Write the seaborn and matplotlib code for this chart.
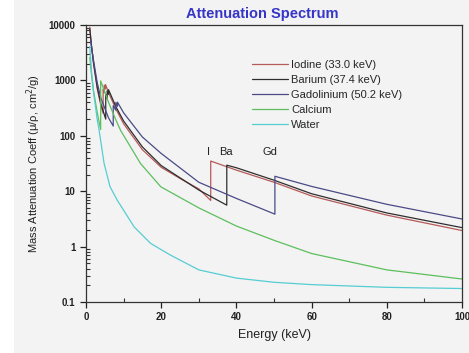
import numpy as np
import pandas as pd
import matplotlib
matplotlib.use("Agg")
import matplotlib.pyplot as plt
import matplotlib.ticker as mticker
from matplotlib.patches import Rectangle
import seaborn as sns

# ── Data ───────────────────────────────────────────────────
iodine_e = [1, 1.5, 2, 3, 4, 4.557, 4.557, 4.852, 4.852, 5.188, 5.188, 6, 8, 10,
            15, 20, 25, 30, 33.17, 33.17, 40, 50, 60, 80, 100]
iodine_v = [9100, 3940, 2000, 700, 340, 255, 690, 600, 820, 700, 840, 600, 300, 165,
            56, 27, 17, 11, 6.8, 35, 24, 14.5, 8.2, 3.7, 1.95]

barium_e = [1, 1.5, 2, 3, 4, 5.247, 5.247, 5.624, 5.624, 5.989, 5.989, 8, 10,
            15, 20, 30, 37.44, 37.44, 40, 50, 60, 80, 100]
barium_v = [8500, 4000, 2100, 750, 370, 200, 560, 470, 650, 560, 680, 330, 185,
            63, 29, 10.5, 5.6, 29.5, 26.5, 15.8, 9.0, 4.05, 2.2]

gadolinium_e = [1.2, 2, 3, 4, 6, 7.243, 7.243, 7.93, 7.93, 8.376, 8.376, 10,
                15, 20, 30, 40, 50.24, 50.24, 60, 80, 100]
gadolinium_v = [5300, 2300, 900, 470, 210, 150, 350, 290, 400, 340, 405, 260,
                95, 48, 14.5, 7.4, 3.85, 18.6, 12.2, 5.8, 3.15]

calcium_e = [1, 1.5, 2, 3, 3.9, 3.9, 5, 6, 8, 9.2, 14.5, 19.9, 30, 40, 50, 60, 80, 100]
calcium_v = [2600, 1200, 650, 260, 130, 980, 620, 400, 190, 125, 31.6, 12, 5.0,
             2.35, 1.3, 0.75, 0.38, 0.26]

water_e = [1, 1.5, 2, 3, 3.5, 4.8, 6.4, 8.3, 12.8, 17.2, 22.5, 30, 40, 50, 60, 80, 100]
water_v = [4078, 1376, 617, 193, 125, 32, 12, 6.9, 2.27, 1.14, 0.70, 0.38,
           0.27, 0.227, 0.206, 0.184, 0.175]

labels = ["Iodine (33.0 keV)", "Barium (37.4 keV)", "Gadolinium (50.2 keV)",
          "Calcium", "Water"]
colors = ["#b55a58", "#2e2e2e", "#4a4a86", "#5cbf5c", "#55cdd3"]

edge_names = ["I", "Ba", "Gd"]
edge_pos = [32.5, 37.2, 49.0]

# ── Build long table ───────────────────────────────────────
frames = []
for lab, e, v in zip(labels,
                     [iodine_e, barium_e, gadolinium_e, calcium_e, water_e],
                     [iodine_v, barium_v, gadolinium_v, calcium_v, water_v]):
    frames.append(pd.DataFrame({"Energy": e, "Coeff": v, "Material": lab}))
df = pd.concat(frames, ignore_index=True)

# ── Plot ───────────────────────────────────────────────────
sns.set_style("ticks")
plt.rcParams["font.family"] = ["Liberation Sans", "DejaVu Sans"]
plt.rcParams["xtick.minor.visible"] = True
plt.rcParams["ytick.minor.visible"] = True

fig = plt.figure(figsize=(4.69, 3.53), dpi=100, facecolor="#f3f3f3")
fig.patches.append(Rectangle((0, 0), 14 / 469, 1, transform=fig.transFigure,
                             facecolor="white", edgecolor="none", zorder=-1))
ax = fig.add_axes([86 / 469, 51 / 353, 376 / 469, 277 / 353])
ax.set_facecolor("#f3f3f3")

sns.lineplot(data=df, x="Energy", y="Coeff", hue="Material", hue_order=labels,
             palette=colors, estimator=None, sort=False, linewidth=0.9, ax=ax)

ax.set_yscale("log")
ax.set_xlim(0, 100)
ax.set_ylim(0.1, 10000)
ax.yaxis.set_major_locator(mticker.LogLocator(base=10, numticks=10))
ax.yaxis.set_minor_locator(mticker.LogLocator(base=10, subs=np.arange(2, 10),
                                              numticks=50))
ax.yaxis.set_minor_formatter(mticker.NullFormatter())
ax.yaxis.set_major_formatter(mticker.FuncFormatter(lambda v, p: f"{v:g}"))
ax.xaxis.set_major_locator(mticker.MultipleLocator(20))
ax.xaxis.set_minor_locator(mticker.MultipleLocator(10))
ax.tick_params(which="major", direction="out", length=4, width=0.9,
               labelsize=7, colors="#222222")
ax.tick_params(which="minor", direction="in", length=3, width=0.8,
               color="#333333", left=True, bottom=True)
for lab in ax.get_xticklabels() + ax.get_yticklabels():
    lab.set_fontweight("bold")
for s in ax.spines.values():
    s.set_linewidth(0.9)
    s.set_color("#333333")

for name, x in zip(edge_names, edge_pos):
    ax.text(x, 50, name, ha="center", va="center", fontsize=8, color="#222222")

ax.set_xlabel("Energy (keV)", fontsize=9, color="#222222", labelpad=5)
ax.set_ylabel("Mass Attenuation Coeff (\u03bc/\u03c1, cm$^2$/g)", fontsize=8,
              color="#222222", labelpad=4)
ax.set_title("Attenuation Spectrum", fontsize=10.5, fontweight="bold",
             color="#3535c8", pad=5, x=0.47)

ax.legend(loc="upper left", bbox_to_anchor=(0.43, 0.89), frameon=False,
          fontsize=8, handlelength=3.2, handletextpad=0.3, labelspacing=0.45,
          borderaxespad=0)

fig.savefig("out.png", dpi=100, facecolor=fig.get_facecolor())
